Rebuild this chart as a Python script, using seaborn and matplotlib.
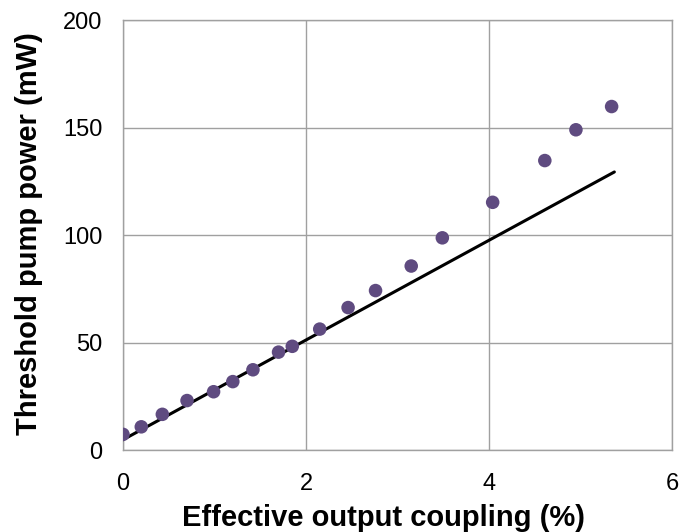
import matplotlib
matplotlib.use("Agg")
import matplotlib.pyplot as plt
import seaborn as sns
import pandas as pd

coupling = [0.0, 0.20, 0.43, 0.70, 0.99, 1.20, 1.42, 1.70, 1.85, 2.15,
            2.46, 2.76, 3.15, 3.49, 4.04, 4.61, 4.95, 5.34]
threshold = [7.5, 11.0, 16.8, 23.2, 27.3, 32.0, 37.5, 45.7, 48.4, 56.4,
             66.4, 74.3, 85.7, 98.8, 115.3, 134.7, 149.0, 159.8]
fit_x = [0.0, 5.37]
fit_y = [5.0, 129.4]

sns.set_theme(style="white")
plt.rcParams['font.family'] = ['Liberation Sans', 'DejaVu Sans']

fig = plt.figure(figsize=(6.81, 5.32), dpi=100)
ax = fig.add_axes([0.1806, 0.1532, 0.8062, 0.8092])

df = pd.DataFrame({"x": coupling, "y": threshold})
fit = pd.DataFrame({"x": fit_x, "y": fit_y})

sns.lineplot(data=fit, x="x", y="y", ax=ax, color="black", linewidth=2.2, zorder=3)
sns.scatterplot(data=df, x="x", y="y", ax=ax, color="#5F4B80", s=95,
                edgecolor="none", zorder=4)

ax.set_xlim(0, 6)
ax.set_ylim(0, 200)
ax.set_xticks([0, 2, 4, 6])
ax.set_yticks([0, 50, 100, 150, 200])
ax.grid(True, color="#A0A0A0", linewidth=1.0)
ax.set_axisbelow(True)
for sp in ax.spines.values():
    sp.set_color("#A0A0A0")
    sp.set_linewidth(1.0)
ax.tick_params(axis="both", labelsize=17, length=0, colors="black")
ax.tick_params(axis="x", pad=16.5)
ax.tick_params(axis="y", pad=15)

ax.set_xlabel("Effective output coupling (%)", fontsize=21, fontweight="bold", color="black")
ax.set_ylabel("Threshold pump power (mW)", fontsize=21, fontweight="bold", color="black")
ax.xaxis.set_label_coords(0.4754, -0.124)
ax.yaxis.set_label_coords(-0.1457, 0.505)

fig.savefig("out.png", dpi=100)
